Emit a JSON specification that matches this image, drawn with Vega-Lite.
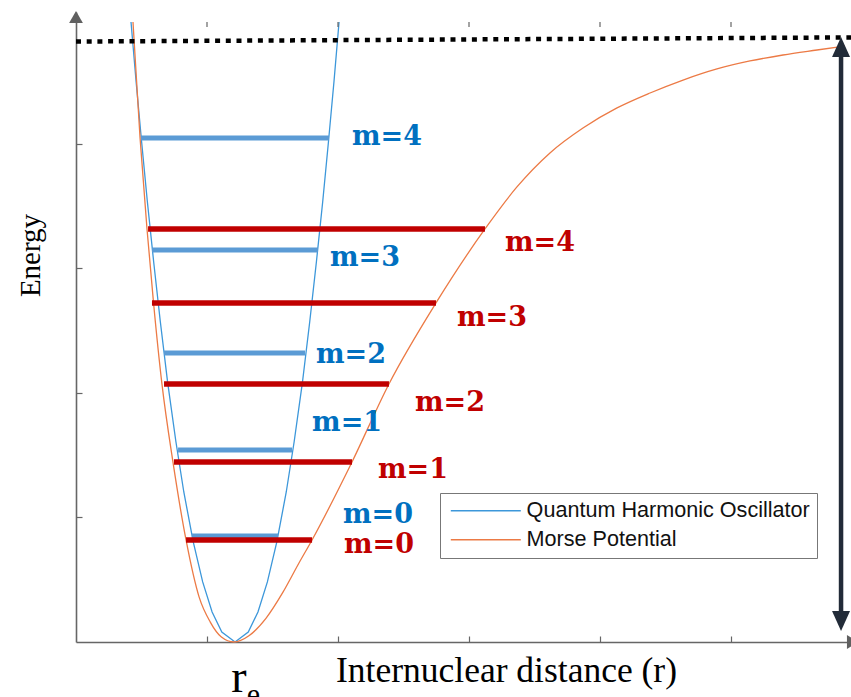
{
  "$schema": "https://vega.github.io/schema/vega-lite/v6.json",
  "width": 775,
  "height": 630,
  "padding": {"left": 76, "top": 12, "right": 0, "bottom": 55},
  "autosize": {"type": "none"},
  "background": "white",
  "config": {"view": {"stroke": null}},
  "datasets": {
    "curves": [
      {"series": "Quantum Harmonic Oscillator", "o": 1, "r": 0.420, "E": 4.976},
      {"series": "Quantum Harmonic Oscillator", "o": 2, "r": 0.459, "E": 4.494},
      {"series": "Quantum Harmonic Oscillator", "o": 3, "r": 0.501, "E": 4.013},
      {"series": "Quantum Harmonic Oscillator", "o": 4, "r": 0.545, "E": 3.531},
      {"series": "Quantum Harmonic Oscillator", "o": 5, "r": 0.593, "E": 3.050},
      {"series": "Quantum Harmonic Oscillator", "o": 6, "r": 0.644, "E": 2.568},
      {"series": "Quantum Harmonic Oscillator", "o": 7, "r": 0.699, "E": 2.087},
      {"series": "Quantum Harmonic Oscillator", "o": 8, "r": 0.763, "E": 1.605},
      {"series": "Quantum Harmonic Oscillator", "o": 9, "r": 0.823, "E": 1.204},
      {"series": "Quantum Harmonic Oscillator", "o": 10, "r": 0.895, "E": 0.803},
      {"series": "Quantum Harmonic Oscillator", "o": 11, "r": 0.967, "E": 0.482},
      {"series": "Quantum Harmonic Oscillator", "o": 12, "r": 1.039, "E": 0.241},
      {"series": "Quantum Harmonic Oscillator", "o": 13, "r": 1.113, "E": 0.080},
      {"series": "Quantum Harmonic Oscillator", "o": 14, "r": 1.214, "E": 0.0},
      {"series": "Quantum Harmonic Oscillator", "o": 15, "r": 1.315, "E": 0.080},
      {"series": "Quantum Harmonic Oscillator", "o": 16, "r": 1.389, "E": 0.241},
      {"series": "Quantum Harmonic Oscillator", "o": 17, "r": 1.461, "E": 0.482},
      {"series": "Quantum Harmonic Oscillator", "o": 18, "r": 1.533, "E": 0.803},
      {"series": "Quantum Harmonic Oscillator", "o": 19, "r": 1.605, "E": 1.204},
      {"series": "Quantum Harmonic Oscillator", "o": 20, "r": 1.665, "E": 1.605},
      {"series": "Quantum Harmonic Oscillator", "o": 21, "r": 1.729, "E": 2.087},
      {"series": "Quantum Harmonic Oscillator", "o": 22, "r": 1.784, "E": 2.568},
      {"series": "Quantum Harmonic Oscillator", "o": 23, "r": 1.835, "E": 3.050},
      {"series": "Quantum Harmonic Oscillator", "o": 24, "r": 1.883, "E": 3.531},
      {"series": "Quantum Harmonic Oscillator", "o": 25, "r": 1.927, "E": 4.013},
      {"series": "Quantum Harmonic Oscillator", "o": 26, "r": 1.969, "E": 4.494},
      {"series": "Quantum Harmonic Oscillator", "o": 27, "r": 2.008, "E": 4.976},
      {"series": "Morse Potential", "o": 1, "r": 0.435, "E": 4.976},
      {"series": "Morse Potential", "o": 2, "r": 0.489, "E": 4.045},
      {"series": "Morse Potential", "o": 3, "r": 0.542, "E": 3.315},
      {"series": "Morse Potential", "o": 4, "r": 0.592, "E": 2.721},
      {"series": "Morse Potential", "o": 5, "r": 0.656, "E": 2.071},
      {"series": "Morse Potential", "o": 6, "r": 0.740, "E": 1.445},
      {"series": "Morse Potential", "o": 7, "r": 0.840, "E": 0.819},
      {"series": "Morse Potential", "o": 8, "r": 0.940, "E": 0.360},
      {"series": "Morse Potential", "o": 9, "r": 1.025, "E": 0.160},
      {"series": "Morse Potential", "o": 10, "r": 1.110, "E": 0.040},
      {"series": "Morse Potential", "o": 11, "r": 1.206, "E": 0.0},
      {"series": "Morse Potential", "o": 12, "r": 1.320, "E": 0.050},
      {"series": "Morse Potential", "o": 13, "r": 1.450, "E": 0.190},
      {"series": "Morse Potential", "o": 14, "r": 1.580, "E": 0.400},
      {"series": "Morse Potential", "o": 15, "r": 1.700, "E": 0.630},
      {"series": "Morse Potential", "o": 16, "r": 1.802, "E": 0.819},
      {"series": "Morse Potential", "o": 17, "r": 2.107, "E": 1.445},
      {"series": "Morse Potential", "o": 18, "r": 2.389, "E": 2.071},
      {"series": "Morse Potential", "o": 19, "r": 2.748, "E": 2.721},
      {"series": "Morse Potential", "o": 20, "r": 3.122, "E": 3.315},
      {"series": "Morse Potential", "o": 21, "r": 3.366, "E": 3.652},
      {"series": "Morse Potential", "o": 22, "r": 3.618, "E": 3.925},
      {"series": "Morse Potential", "o": 23, "r": 3.870, "E": 4.125},
      {"series": "Morse Potential", "o": 24, "r": 4.130, "E": 4.286},
      {"series": "Morse Potential", "o": 25, "r": 4.382, "E": 4.406},
      {"series": "Morse Potential", "o": 26, "r": 4.634, "E": 4.510},
      {"series": "Morse Potential", "o": 27, "r": 4.893, "E": 4.599},
      {"series": "Morse Potential", "o": 28, "r": 5.145, "E": 4.663},
      {"series": "Morse Potential", "o": 29, "r": 5.397, "E": 4.711},
      {"series": "Morse Potential", "o": 30, "r": 5.656, "E": 4.751},
      {"series": "Morse Potential", "o": 31, "r": 5.870, "E": 4.783}
    ],
    "levels": [
      {"series": "QHO", "m": 4, "r1": 0.496, "r2": 1.931, "E": 4.045},
      {"series": "QHO", "m": 3, "r1": 0.580, "r2": 1.847, "E": 3.146},
      {"series": "QHO", "m": 2, "r1": 0.672, "r2": 1.748, "E": 2.319},
      {"series": "QHO", "m": 1, "r1": 0.779, "r2": 1.649, "E": 1.541},
      {"series": "QHO", "m": 0, "r1": 0.885, "r2": 1.542, "E": 0.851},
      {"series": "Morse", "m": 4, "r1": 0.550, "r2": 3.122, "E": 3.315},
      {"series": "Morse", "m": 3, "r1": 0.580, "r2": 2.748, "E": 2.721},
      {"series": "Morse", "m": 2, "r1": 0.672, "r2": 2.389, "E": 2.071},
      {"series": "Morse", "m": 1, "r1": 0.748, "r2": 2.107, "E": 1.445},
      {"series": "Morse", "m": 0, "r1": 0.840, "r2": 1.802, "E": 0.819}
    ],
    "labels": [
      {"series": "QHO", "text": "m=4", "r": 2.107, "E": 4.053},
      {"series": "QHO", "text": "m=3", "r": 1.939, "E": 3.082},
      {"series": "QHO", "text": "m=2", "r": 1.832, "E": 2.303},
      {"series": "QHO", "text": "m=1", "r": 1.802, "E": 1.758},
      {"series": "QHO", "text": "m=0", "r": 2.038, "E": 1.019},
      {"series": "Morse", "text": "m=4", "r": 3.275, "E": 3.202},
      {"series": "Morse", "text": "m=3", "r": 2.908, "E": 2.600},
      {"series": "Morse", "text": "m=2", "r": 2.588, "E": 1.918},
      {"series": "Morse", "text": "m=1", "r": 2.305, "E": 1.380},
      {"series": "Morse", "text": "m=0", "r": 2.046, "E": 0.778}
    ],
    "dissociation": [{"r": 0.0, "r2": 5.916, "E": 4.819, "E2": 4.852}],
    "arrow": [{"r": 5.840, "E": 0.2, "E2": 4.75}],
    "arrowTop": [{"r": 5.840, "E": 4.775}],
    "arrowBottom": [{"r": 5.840, "E": 0.169}],
    "yAxisTip": [{"r": 0.0, "E": 5.016}],
    "xAxisTip": [{"r": 5.931, "E": 0.0}],
    "topTicks": [{"r": 1}, {"r": 2}, {"r": 3}, {"r": 4}, {"r": 5}],
    "annot": [
      {"text": "r", "r": 1.244, "E": -0.401},
      {"text": "e", "r": 1.355, "E": -0.50}
    ]
  },
  "layer": [
    {
      "data": {"name": "curves"},
      "transform": [{"filter": "datum.series === 'Quantum Harmonic Oscillator'"}],
      "mark": {"type": "line", "strokeWidth": 1.3, "clip": false},
      "encoding": {
        "x": {
          "field": "r", "type": "quantitative",
          "scale": {"domain": [0, 5.916], "nice": false, "zero": false},
          "axis": {
            "title": "Internuclear distance (r)",
            "values": [1, 2, 3, 4, 5],
            "labels": false, "grid": false,
            "domainColor": "#666", "domainWidth": 1.6,
            "tickColor": "#666", "tickSize": -6, "tickWidth": 1.2,
            "titleFont": "Liberation Serif", "titleFontSize": 35.5, "titleFontWeight": "normal",
            "titleColor": "#000", "titleX": 430, "titleY": 39,
            "titleAlign": "center", "titleBaseline": "alphabetic"
          }
        },
        "y": {
          "field": "E", "type": "quantitative",
          "scale": {"domain": [0, 5.056], "nice": false, "zero": false},
          "axis": {
            "title": "Energy",
            "values": [1, 2, 3, 4],
            "labels": false, "grid": false,
            "domainColor": "#666", "domainWidth": 1.6,
            "tickColor": "#666", "tickSize": -6, "tickWidth": 1.2,
            "titleFont": "Liberation Serif", "titleFontSize": 29, "titleFontWeight": "normal",
            "titleColor": "#000", "titleX": -46, "titleY": 243,
            "titleAlign": "center", "titleBaseline": "middle", "titleAngle": -90
          }
        },
        "color": {
          "field": "series", "type": "nominal",
          "scale": {"domain": ["Quantum Harmonic Oscillator", "Morse Potential"], "range": ["#3C97DA", "#EC7A45"]},
          "legend": {
            "title": null, "orient": "none", "legendX": 364, "legendY": 481,
            "symbolType": "M-1,0L9,0", "symbolSize": 196, "symbolStrokeWidth": 1.5,
            "symbolFillColor": "transparent",
            "labelFont": "Liberation Sans", "labelFontSize": 21.6, "labelColor": "#111",
            "labelOffset": 58, "rowPadding": 6, "padding": 7, "labelLimit": 400,
            "strokeColor": "#777", "fillColor": "white"
          }
        },
        "order": {"field": "o", "type": "quantitative"}
      }
    },
    {
      "data": {"name": "curves"},
      "transform": [{"filter": "datum.series === 'Morse Potential'"}],
      "mark": {"type": "line", "strokeWidth": 1.3, "clip": false, "interpolate": "monotone"},
      "encoding": {
        "x": {"field": "r", "type": "quantitative"},
        "y": {"field": "E", "type": "quantitative"},
        "color": {"field": "series", "type": "nominal"},
        "order": {"field": "o", "type": "quantitative"}
      }
    },
    {
      "data": {"name": "levels"},
      "transform": [{"filter": "datum.series === 'QHO'"}],
      "mark": {"type": "rule", "color": "#5B9BD5", "strokeWidth": 5, "strokeCap": "butt"},
      "encoding": {
        "x": {"field": "r1", "type": "quantitative"},
        "x2": {"field": "r2"},
        "y": {"field": "E", "type": "quantitative"}
      }
    },
    {
      "data": {"name": "levels"},
      "transform": [{"filter": "datum.series === 'Morse'"}],
      "mark": {"type": "rule", "color": "#C00000", "strokeWidth": 5.5, "strokeCap": "butt"},
      "encoding": {
        "x": {"field": "r1", "type": "quantitative"},
        "x2": {"field": "r2"},
        "y": {"field": "E", "type": "quantitative"}
      }
    },
    {
      "data": {"name": "labels"},
      "transform": [{"filter": "datum.series === 'QHO'"}],
      "mark": {"type": "text", "align": "left", "baseline": "middle", "font": "DejaVu Serif", "fontWeight": "bold", "fontSize": 27, "color": "#0070C0"},
      "encoding": {
        "x": {"field": "r", "type": "quantitative"},
        "y": {"field": "E", "type": "quantitative"},
        "text": {"field": "text"}
      }
    },
    {
      "data": {"name": "labels"},
      "transform": [{"filter": "datum.series === 'Morse'"}],
      "mark": {"type": "text", "align": "left", "baseline": "middle", "font": "DejaVu Serif", "fontWeight": "bold", "fontSize": 27, "color": "#C00000"},
      "encoding": {
        "x": {"field": "r", "type": "quantitative"},
        "y": {"field": "E", "type": "quantitative"},
        "text": {"field": "text"}
      }
    },
    {
      "data": {"name": "dissociation"},
      "mark": {"type": "rule", "color": "#000", "strokeWidth": 4.5, "strokeDash": [5, 5.7], "strokeCap": "butt", "clip": false},
      "encoding": {
        "x": {"field": "r", "type": "quantitative"},
        "x2": {"field": "r2"},
        "y": {"field": "E", "type": "quantitative"},
        "y2": {"field": "E2"}
      }
    },
    {
      "data": {"name": "arrow"},
      "mark": {"type": "rule", "color": "#222B38", "strokeWidth": 4.5},
      "encoding": {
        "x": {"field": "r", "type": "quantitative"},
        "y": {"field": "E", "type": "quantitative"},
        "y2": {"field": "E2"}
      }
    },
    {
      "data": {"name": "arrowTop"},
      "mark": {"type": "point", "shape": "M0,-1L-0.9,1L0.9,1Z", "size": 400, "filled": true, "color": "#222B38", "opacity": 1},
      "encoding": {
        "x": {"field": "r", "type": "quantitative"},
        "y": {"field": "E", "type": "quantitative"}
      }
    },
    {
      "data": {"name": "arrowBottom"},
      "mark": {"type": "point", "shape": "M0,1L-0.9,-1L0.9,-1Z", "size": 400, "filled": true, "color": "#222B38", "opacity": 1},
      "encoding": {
        "x": {"field": "r", "type": "quantitative"},
        "y": {"field": "E", "type": "quantitative"}
      }
    },
    {
      "data": {"name": "yAxisTip"},
      "mark": {"type": "point", "shape": "M0,-1L-1.15,1L1.15,1Z", "size": 144, "filled": true, "color": "#606060", "opacity": 1},
      "encoding": {
        "x": {"field": "r", "type": "quantitative"},
        "y": {"field": "E", "type": "quantitative"}
      }
    },
    {
      "data": {"name": "xAxisTip"},
      "mark": {"type": "point", "shape": "M1,0L-1,-1.15L-1,1.15Z", "size": 144, "filled": true, "color": "#606060", "opacity": 1},
      "encoding": {
        "x": {"field": "r", "type": "quantitative"},
        "y": {"field": "E", "type": "quantitative"}
      }
    },
    {
      "data": {"name": "topTicks"},
      "mark": {"type": "rule", "color": "#666", "strokeWidth": 1.2},
      "encoding": {
        "x": {"field": "r", "type": "quantitative"},
        "y": {"datum": 4.976},
        "y2": {"datum": 4.936}
      }
    },
    {
      "data": {"name": "annot"},
      "transform": [{"filter": "datum.text === 'r'"}],
      "mark": {"type": "text", "align": "center", "baseline": "alphabetic", "font": "Liberation Serif", "fontSize": 46, "color": "#000"},
      "encoding": {
        "x": {"field": "r", "type": "quantitative"},
        "y": {"field": "E", "type": "quantitative"},
        "text": {"field": "text"}
      }
    },
    {
      "data": {"name": "annot"},
      "transform": [{"filter": "datum.text === 'e'"}],
      "mark": {"type": "text", "align": "center", "baseline": "alphabetic", "font": "Liberation Serif", "fontSize": 30, "color": "#000"},
      "encoding": {
        "x": {"field": "r", "type": "quantitative"},
        "y": {"field": "E", "type": "quantitative"},
        "text": {"field": "text"}
      }
    }
  ]
}
